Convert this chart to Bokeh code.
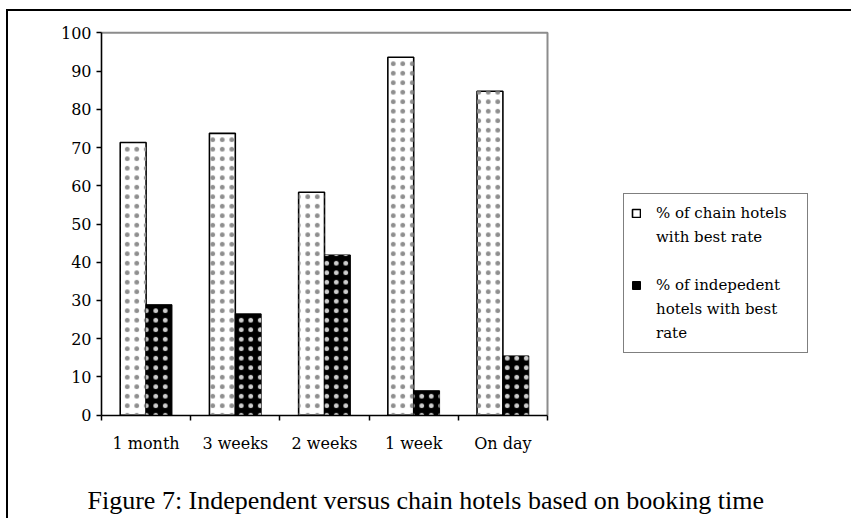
from bokeh.plotting import figure
from bokeh.models import (Range1d, FixedTicker, Legend, LegendItem, Label,
                          ColumnDataSource)
from bokeh.embed import file_html
from bokeh.resources import INLINE
import numpy as np

# Booking-time categories and shares of hotels offering the best rate (%)
categories = ["1 month", "3 weeks", "2 weeks", "1 week", "On day"]
chain_pct = [71.3, 73.7, 58.3, 93.6, 84.7]
independent_pct = [28.9, 26.5, 41.9, 6.4, 15.5]
y_ticks = list(range(0, 101, 10))
legend_rows = ["% of chain hotels", "with best rate", " ",
               "% of indepedent", "hotels with best", "rate"]
caption = "Figure 7: Independent versus chain hotels based on booking time"

CHART_FONT = "DejaVu Serif"
CAPTION_FONT = "Liberation Serif"

n = len(categories)
y_max = y_ticks[-1]
centers = np.arange(n) + 0.5
bar_w = 0.29
source = ColumnDataSource(dict(
    x_chain=centers - 0.145,
    x_ind=centers + 0.145,
    chain=chain_pct,
    ind=independent_pct,
))

# The plotting frame covers the whole page so that the key and the caption
# sit inside it; both axes are pinned to the origin and bounded to the chart.
W, H = 845, 509              # page size inside the rules
px_x = 89.2                  # pixels per category
px_y = 3.824                 # pixels per percentage point
origin_x, top_y = 93, 21.3   # pixel position of x = 0 and of y = 100
x_rng = Range1d(-origin_x / px_x, (W - origin_x) / px_x)
y_rng = Range1d(y_max - (H - top_y) / px_y, y_max + top_y / px_y)

p = figure(width=W, height=H, output_backend="svg", toolbar_location=None,
           x_range=x_rng, y_range=y_rng,
           min_border_left=0, min_border_right=0,
           min_border_top=0, min_border_bottom=0)
p.margin = (9, 0, 0, 6)
p.styles = {"border-left": "2px solid black", "border-top": "2px solid black"}
p.background_fill_color = "white"
p.border_fill_color = "white"
p.outline_line_color = None
p.xgrid.visible = False
p.ygrid.visible = False

# grey top and right edges of the chart region
p.line(x=[0, n, n], y=[y_max, y_max, 0], line_color="#8c8c8c", line_width=2)

# bars: a plain body plus a dotted texture laid over it
chain_r = p.vbar(x="x_chain", top="chain", width=bar_w, source=source,
                 fill_color="white", line_color="black", line_width=1.6)
p.vbar(x="x_chain", top="chain", width=bar_w, source=source,
       fill_alpha=0, line_alpha=0, hatch_pattern="dot",
       hatch_color="#8e8e8e", hatch_scale=9.5, hatch_weight=0.5)
ind_r = p.vbar(x="x_ind", top="ind", width=bar_w, source=source,
               fill_color="black", line_color="black", line_width=1)
p.vbar(x="x_ind", top="ind", width=bar_w, source=source,
       fill_alpha=0, line_alpha=0, hatch_pattern="dot",
       hatch_color="#cfcfcf", hatch_scale=9.5, hatch_weight=0.5)

# y axis pinned at x = 0
p.yaxis.fixed_location = 0
p.yaxis.bounds = (0, y_max)
p.yaxis.ticker = FixedTicker(ticks=y_ticks)
p.yaxis.axis_line_color = "black"
p.yaxis.axis_line_width = 1.6
p.yaxis.major_tick_out = 5
p.yaxis.major_tick_in = 0
p.yaxis.major_tick_line_width = 1.5
p.yaxis.minor_tick_line_color = None
p.yaxis.major_label_standoff = 5
p.yaxis.major_label_text_font = CHART_FONT
p.yaxis.major_label_text_font_size = "16px"
p.yaxis.major_label_text_color = "black"

# x axis pinned at y = 0: labels at category centres, ticks at boundaries
p.xaxis.fixed_location = 0
p.xaxis.bounds = (0, n)
p.xaxis.ticker = FixedTicker(ticks=list(centers),
                             minor_ticks=list(range(n + 1)))
p.xaxis.major_label_overrides = {float(c): lab for c, lab in zip(centers, categories)}
p.xaxis.axis_line_color = "black"
p.xaxis.axis_line_width = 1.6
p.xaxis.major_tick_line_color = None
p.xaxis.major_tick_out = 5
p.xaxis.major_tick_in = 0
p.xaxis.minor_tick_line_color = "black"
p.xaxis.minor_tick_line_width = 1.5
p.xaxis.minor_tick_out = 5
p.xaxis.minor_tick_in = 0
p.xaxis.major_label_standoff = 14
p.xaxis.major_label_text_font = CHART_FONT
p.xaxis.major_label_text_font_size = "16px"
p.xaxis.major_label_text_color = "black"

keys = [[chain_r], [], [], [ind_r], [], []]
legend = Legend(items=[LegendItem(label=t, renderers=r)
                       for t, r in zip(legend_rows, keys)],
                location=(615, 167))
legend.glyph_width = 10
legend.glyph_height = 10
legend.label_height = 24
legend.label_width = 144
legend.label_standoff = 15
legend.label_text_font = CHART_FONT
legend.label_text_font_size = "15px"
legend.label_text_color = "black"
legend.spacing = 0
legend.padding = 7
legend.margin = 0
legend.border_line_color = "black"
legend.border_line_width = 1.5
legend.background_fill_alpha = 1
p.add_layout(legend, "center")

# figure caption under the chart
p.add_layout(Label(x=77, y=472, x_units="canvas", y_units="canvas",
                   text=caption, text_font=CAPTION_FONT,
                   text_font_size="26px", text_baseline="top",
                   text_color="black"))

open("out.html", "w").write(file_html(p, INLINE))
